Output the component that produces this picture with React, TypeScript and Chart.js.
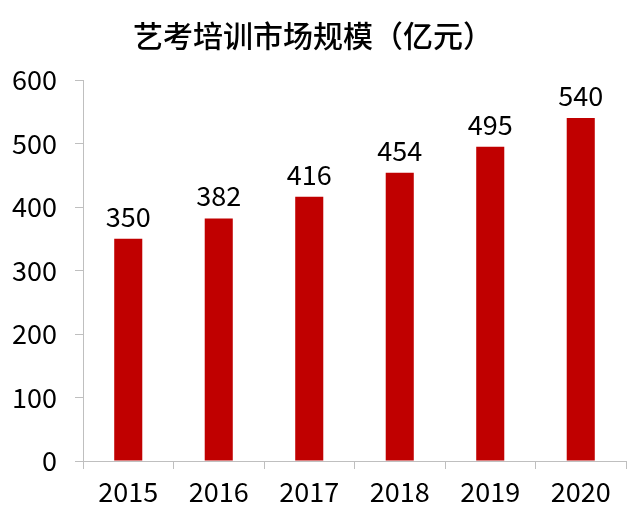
import React, { useEffect, useRef } from "react";
import { Chart, registerables } from "chart.js";

Chart.register(...registerables);

const categories = ["2015", "2016", "2017", "2018", "2019", "2020"];
const values = [350, 382, 416, 454, 495, 540];
const titleText = "艺考培训市场规模（亿元）";
const yMin = 0;
const yMax = 600;
const yStep = 100;

const FONT = "'Noto Sans CJK SC', 'Noto Sans', sans-serif";

const valueLabels = {
  id: "valueLabels",
  afterDatasetsDraw(chart: any) {
    const ctx = chart.ctx;
    const meta = chart.getDatasetMeta(0);
    ctx.save();
    ctx.font = `27px ${FONT}`;
    ctx.fillStyle = "#000";
    ctx.textAlign = "center";
    ctx.textBaseline = "alphabetic";
    meta.data.forEach((bar: any, i: number) => {
      ctx.fillText(String(values[i]), bar.x, bar.y - 12);
    });
    ctx.restore();
  },
};

export default function App() {
  const ref = useRef<HTMLCanvasElement>(null);
  useEffect(() => {
    if (!ref.current) return;
    const chart = new Chart(ref.current, {
      type: "bar",
      data: {
        labels: categories,
        datasets: [
          {
            data: values,
            backgroundColor: "#C00000",
            borderWidth: 0,
            categoryPercentage: 1,
            barPercentage: 0.31,
          },
        ],
      },
      options: {
        animation: false,
        responsive: false,
        maintainAspectRatio: false,
        layout: { padding: { left: 0, right: 14, top: 0, bottom: 0 } },
        plugins: {
          legend: { display: false },
          tooltip: { enabled: false },
          title: {
            display: true,
            text: titleText,
            color: "#000",
            font: { family: FONT, size: 30, weight: "500" },
            padding: { top: 18, bottom: 26 },
          },
        },
        scales: {
          x: {
            afterFit: (s: any) => {
              s.height = 61;
            },
            grid: {
              display: true,
              offset: true,
              drawOnChartArea: false,
              drawTicks: true,
              tickLength: 8,
              color: "#bfbfbf",
            },
            border: { display: true, color: "#bfbfbf", width: 1 },
            ticks: {
              color: "#000",
              font: { family: FONT, size: 27 },
              padding: 7,
            },
          },
          y: {
            min: yMin,
            max: yMax,
            afterFit: (s: any) => {
              s.width = 83;
            },
            grid: {
              display: true,
              drawOnChartArea: false,
              drawTicks: true,
              tickLength: 8,
              color: "#bfbfbf",
            },
            border: { display: true, color: "#bfbfbf", width: 1 },
            ticks: {
              stepSize: yStep,
              color: "#000",
              font: { family: FONT, size: 27 },
              padding: 18,
            },
          },
        },
      },
      plugins: [valueLabels],
    });
    return () => chart.destroy();
  }, []);
  return (
    <div style={{ position: "fixed", left: 0, top: 0, width: 640, height: 522, background: "#fff" }}>
      <canvas ref={ref} width={640} height={522} style={{ width: 640, height: 522 }} />
    </div>
  );
}
